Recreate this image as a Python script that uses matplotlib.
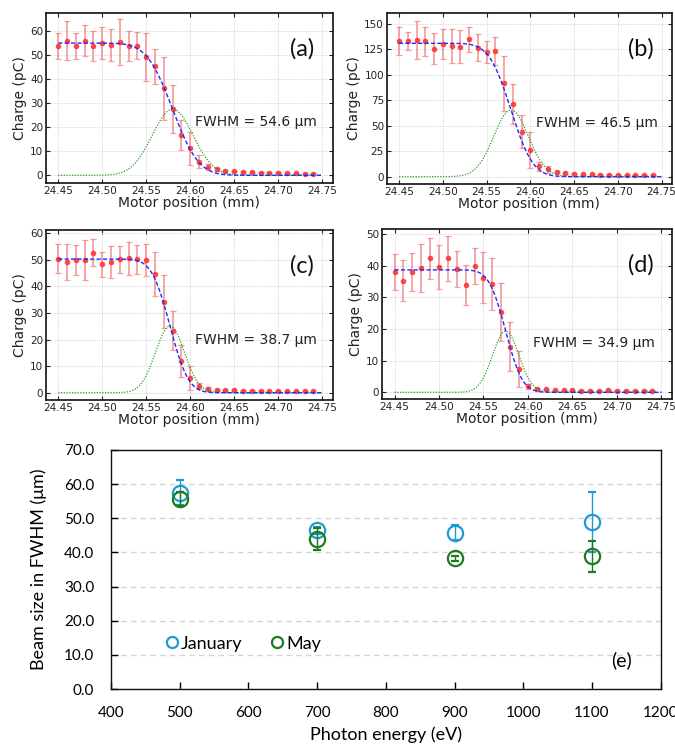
import math
import numpy as np
import matplotlib
matplotlib.use("Agg")
import matplotlib.pyplot as plt
from matplotlib.lines import Line2D
from matplotlib.ticker import FormatStrFormatter

# ---------------- data: knife-edge scans ----------------
motor_pos = [24.45, 24.46, 24.47, 24.48, 24.49, 24.50, 24.51, 24.52, 24.53, 24.54,
             24.55, 24.56, 24.57, 24.58, 24.59, 24.60, 24.61, 24.62, 24.63, 24.64,
             24.65, 24.66, 24.67, 24.68, 24.69, 24.70, 24.71, 24.72, 24.73, 24.74]

charge_a = [53.8, 56.0, 53.8, 56.0, 53.8, 54.9, 54.3, 55.3, 53.8, 53.8,
            49.3, 45.4, 36.2, 27.4, 16.8, 11.2, 5.7, 3.6, 2.5, 1.9,
            1.7, 1.4, 1.2, 1.1, 1.1, 1.0, 0.8, 0.8, 0.7, 0.7]
err_a = [5.4, 8.0, 5.4, 6.4, 6.3, 6.6, 6.7, 9.5, 6.3, 5.6,
         10.0, 7.3, 13.2, 10.0, 6.2, 7.0, 2.8, 1.2, 0.5, 0.4,
         0.3, 0.3, 0.3, 0.2, 0.2, 0.2, 0.2, 0.2, 0.2, 0.2]

charge_b = [133.0, 133.0, 134.6, 133.0, 125.8, 130.4, 128.4, 127.7, 134.9, 126.8,
            122.8, 123.5, 91.7, 71.4, 44.2, 26.2, 10.2, 7.2, 4.9, 3.6,
            2.9, 2.3, 2.3, 2.0, 2.0, 1.6, 1.6, 1.6, 1.6, 1.6]
err_b = [13.7, 9.0, 18.7, 14.4, 15.0, 14.4, 17.0, 16.0, 12.5, 13.4,
         10.8, 13.7, 27.0, 19.7, 16.4, 17.4, 4.6, 3.3, 1.0, 0.6,
         0.5, 0.4, 0.4, 0.4, 0.4, 0.3, 0.3, 0.3, 0.3, 0.3]

charge_c = [50.5, 49.3, 49.8, 50.0, 52.7, 48.3, 49.3, 50.2, 50.6, 50.2,
            50.0, 44.6, 34.3, 23.3, 12.0, 5.6, 2.4, 1.5, 1.0, 0.9,
            0.9, 0.75, 0.75, 0.6, 0.6, 0.6, 0.6, 0.6, 0.6, 0.6]
err_c = [5.6, 6.8, 5.6, 7.6, 5.2, 4.8, 6.0, 5.0, 6.3, 5.4,
         6.1, 8.3, 10.0, 7.4, 5.9, 4.5, 1.1, 0.5, 0.3, 0.2,
         0.2, 0.2, 0.2, 0.2, 0.2, 0.2, 0.2, 0.2, 0.2, 0.2]

charge_d = [38.0, 35.3, 37.9, 39.2, 42.3, 39.7, 42.3, 38.9, 33.9, 40.0,
            36.2, 34.2, 25.3, 14.4, 7.5, 1.9, 1.2, 0.9, 0.6, 0.6,
            0.6, 0.5, 0.5, 0.5, 0.6, 0.5, 0.5, 0.5, 0.5, 0.5]
err_d = [5.7, 6.5, 6.0, 7.6, 6.5, 7.0, 7.0, 5.6, 6.2, 5.7,
         8.0, 8.3, 9.2, 7.7, 5.7, 0.7, 0.3, 0.3, 0.2, 0.2,
         0.2, 0.2, 0.2, 0.2, 0.2, 0.2, 0.2, 0.2, 0.2, 0.2]

# fitted error-function parameters (plateau, edge centre in mm, FWHM in um)
fit_amplitude = [55.0, 131.0, 50.3, 38.7]
fit_center = [24.580, 24.578, 24.577, 24.575]
fit_fwhm_um = [54.6, 46.5, 38.7, 34.9]
panel_tags = ["(a)", "(b)", "(c)", "(d)"]
panel_ylim = [(-3.2, 67.5), (-7.2, 160.8), (-2.75, 61.2), (-2.1, 51.6)]
panel_yticks = [[0, 10, 20, 30, 40, 50, 60], [0, 25, 50, 75, 100, 125, 150],
                [0, 10, 20, 30, 40, 50, 60], [0, 10, 20, 30, 40, 50]]
fwhm_text_y = [22.0, 53.0, 19.8, 15.5]
x_ticks = [24.45, 24.50, 24.55, 24.60, 24.65, 24.70, 24.75]

# ---------------- data: beam size vs photon energy ----------------
photon_energy = [500, 700, 900, 1100]
fwhm_january = [57.5, 46.5, 45.8, 48.8]
fwhm_january_err = [3.6, 1.0, 2.2, 8.8]
fwhm_may = [55.7, 44.0, 38.3, 38.9]
fwhm_may_err = [2.0, 3.3, 0.7, 4.5]

# ---------------- figure ----------------
fig = plt.figure(figsize=(6.75, 7.47), dpi=100)

positions = [[0.068, 0.755, 0.425, 0.2276],
             [0.573, 0.7537, 0.4226, 0.229],
             [0.068, 0.4645, 0.425, 0.2275],
             [0.566, 0.4659, 0.4296, 0.2275]]
charges = [charge_a, charge_b, charge_c, charge_d]
errors = [err_a, err_b, err_c, err_d]

xfit = np.linspace(24.45, 24.75, 400)
for i in range(4):
    ax = fig.add_axes(positions[i])
    A = fit_amplitude[i]
    x0 = fit_center[i]
    sig = fit_fwhm_um[i] / 1000.0 / (2.0 * math.sqrt(2.0 * math.log(2.0)))
    erf_curve = np.array([A / 2.0 * math.erfc((x - x0) / (math.sqrt(2.0) * sig)) for x in xfit])
    gauss_curve = A / 2.0 * np.exp(-(xfit - x0) ** 2 / (2.0 * sig ** 2))

    ax.errorbar(motor_pos, charges[i], yerr=errors[i], fmt="none",
                ecolor="#f27878", elinewidth=1.3, capsize=2.2, capthick=0.9,
                alpha=0.7, zorder=2)
    ax.plot(motor_pos, charges[i], "o", color="#ff3535", ms=4.0, mec="none",
            alpha=0.9, zorder=3)
    ax.plot(xfit, gauss_curve, color="#2ca02c", ls=(0, (1, 1.2)), lw=0.9, zorder=4)
    ax.plot(xfit, erf_curve, color="#1f2bff", ls=(0, (3, 1.6)), lw=1.0, zorder=5)

    ax.set_xlim(24.436, 24.762)
    ax.set_ylim(*panel_ylim[i])
    ax.set_xticks(x_ticks)
    ax.set_yticks(panel_yticks[i])
    ax.xaxis.set_major_formatter(FormatStrFormatter("%.2f"))
    ax.tick_params(direction="in", top=True, right=True, labelsize=7.5,
                   length=3, width=0.8, pad=2, colors="#222222", labelcolor="#222222")
    ax.grid(True, color="#dddddd", lw=0.6, ls=(0, (2, 1)))
    ax.set_axisbelow(True)
    for s in ax.spines.values():
        s.set_linewidth(1.2)
        s.set_color("#111111")
    ax.set_xlabel("Motor position (mm)", fontsize=10, labelpad=0.5, color="#222222")
    ax.set_ylabel("Charge (pC)", fontsize=10, labelpad=2, color="#222222")
    ax.text(24.606, fwhm_text_y[i], "FWHM = %.1f \u00b5m" % fit_fwhm_um[i],
            fontsize=10, va="center", ha="left", color="#222222")
    ax.text(0.892, 0.79, panel_tags[i], transform=ax.transAxes, fontsize=17,
            family="Lato", ha="center", va="center", color="#111111")

# ---------------- panel (e) ----------------
axe = fig.add_axes([0.1644, 0.0776, 0.8144, 0.32])
jan_color = "#1f9ad6"
may_color = "#1e7b1e"
axe.errorbar(photon_energy, fwhm_january, yerr=fwhm_january_err, fmt="o",
             color=jan_color, mfc="none", mec=jan_color, ms=11, mew=1.6,
             elinewidth=1.0, capsize=3, capthick=1.0, zorder=3)
axe.errorbar(photon_energy, fwhm_may, yerr=fwhm_may_err, fmt="o",
             color=may_color, mfc="none", mec=may_color, ms=11, mew=1.6,
             elinewidth=1.0, capsize=3, capthick=1.0, zorder=4)
axe.set_xlim(400, 1200)
axe.set_ylim(0, 70)
axe.set_xticks([400, 500, 600, 700, 800, 900, 1000, 1100, 1200])
axe.set_yticks([0, 10, 20, 30, 40, 50, 60, 70])
axe.yaxis.set_major_formatter(FormatStrFormatter("%.1f"))
axe.yaxis.grid(True, color="#d4d4d4", lw=1.0, ls=(0, (4, 3)))
axe.set_axisbelow(True)
axe.tick_params(axis="x", direction="in", length=5, width=1.0, labelsize=11, pad=12)
axe.tick_params(axis="y", direction="in", length=5, width=1.0, labelsize=11, pad=12)
for lab in axe.get_xticklabels() + axe.get_yticklabels():
    lab.set_family("Lato")
for s in axe.spines.values():
    s.set_linewidth(1.0)
    s.set_color("#111111")
axe.set_xlabel("Photon energy (eV)", fontsize=13, family="Lato", labelpad=5)
axe.set_ylabel("Beam size in FWHM (\u03bcm)", fontsize=13, family="Lato", labelpad=12)
handles = [Line2D([], [], ls="none", marker="o", mfc="none", mec=jan_color, ms=8, mew=1.6),
           Line2D([], [], ls="none", marker="o", mfc="none", mec=may_color, ms=8, mew=1.6)]
axe.legend(handles, ["January", "May"], ncol=2, loc="center left",
           bbox_to_anchor=(0.072, 0.19), frameon=False, handlelength=0.6,
           handletextpad=0.2, columnspacing=1.6, prop={"family": "Lato", "size": 13})
axe.text(0.928, 0.12, "(e)", transform=axe.transAxes, fontsize=14, family="Lato",
         ha="center", va="center")

fig.savefig("out.png", dpi=100)
